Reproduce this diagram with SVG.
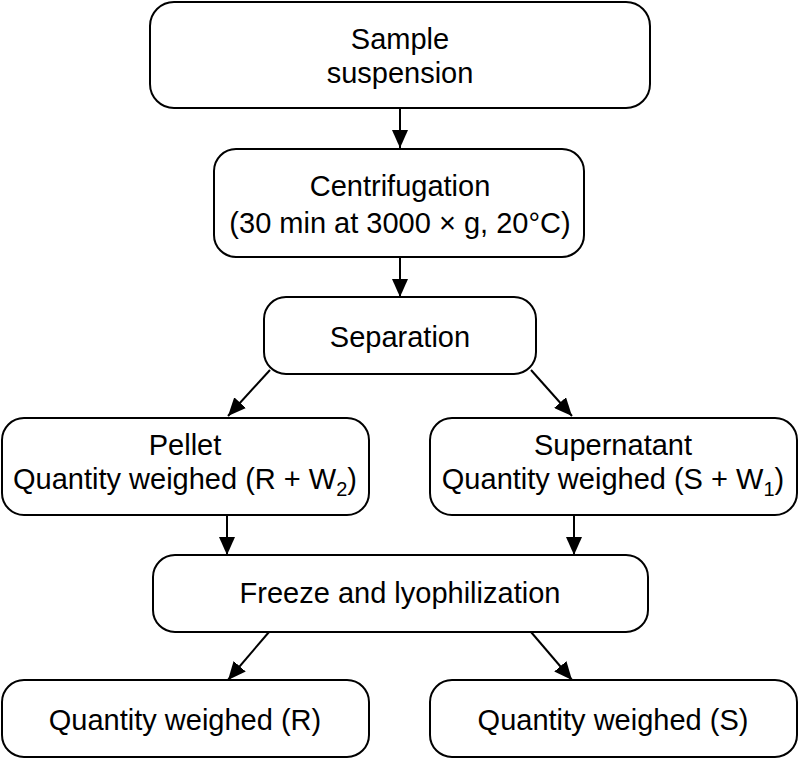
<svg xmlns="http://www.w3.org/2000/svg" width="800" height="759" viewBox="0 0 800 759">
<defs>
<style>
.box{fill:#fff;stroke:#000;stroke-width:2}
.t{font-family:"Liberation Sans",Arial,Helvetica,sans-serif;font-size:29px;fill:#000;text-anchor:middle}
.c{stroke:#000;stroke-width:2;fill:none;marker-end:url(#ah)}
</style>
<marker id="ah" viewBox="0 0 18 16" refX="18" refY="8" markerWidth="18" markerHeight="16" markerUnits="userSpaceOnUse" orient="auto">
<path d="M0,0 L18,8 L0,16 Z" fill="#000"/>
</marker>
</defs>
<rect width="800" height="759" fill="#fff"/>
<g id="connectors">
<line class="c" x1="400" y1="108" x2="400" y2="148"/>
<line class="c" x1="400" y1="257" x2="400" y2="297"/>
<line class="c" x1="270" y1="370" x2="228" y2="416"/>
<line class="c" x1="531" y1="370" x2="572" y2="416"/>
<line class="c" x1="227" y1="515" x2="227" y2="555"/>
<line class="c" x1="574" y1="515" x2="574" y2="555"/>
<line class="c" x1="269" y1="632" x2="228" y2="680"/>
<line class="c" x1="531" y1="632" x2="572" y2="680"/>
</g>
<g id="sample">
<rect class="box" x="150" y="2" width="500" height="106" rx="24"/>
<text class="t" x="400" y="49">Sample</text>
<text class="t" x="400" y="83">suspension</text>
</g>
<g id="centrifugation">
<rect class="box" x="214" y="149" width="370" height="108" rx="22"/>
<text class="t" x="400" y="196">Centrifugation</text>
<text class="t" x="400" y="233">(30 min at 3000 × g, 20°C)</text>
</g>
<g id="separation">
<rect class="box" x="264" y="297" width="272" height="77" rx="22"/>
<text class="t" x="400" y="347">Separation</text>
</g>
<g id="pellet">
<rect class="box" x="2" y="418" width="367" height="97" rx="22"/>
<text class="t" x="185" y="455">Pellet</text>
<text class="t" x="185" y="489">Quantity weighed (R + W<tspan font-size="20" dy="7">2</tspan><tspan dy="-7">)</tspan></text>
</g>
<g id="supernatant">
<rect class="box" x="430" y="418" width="367" height="97" rx="22"/>
<text class="t" x="613" y="455">Supernatant</text>
<text class="t" x="613" y="489">Quantity weighed (S + W<tspan font-size="20" dy="7">1</tspan><tspan dy="-7">)</tspan></text>
</g>
<g id="freeze">
<rect class="box" x="153" y="555" width="495" height="77" rx="22"/>
<text class="t" x="400" y="603">Freeze and lyophilization</text>
</g>
<g id="resultR">
<rect class="box" x="2" y="680" width="367" height="77" rx="22"/>
<text class="t" x="185" y="730">Quantity weighed (R)</text>
</g>
<g id="resultS">
<rect class="box" x="430" y="680" width="367" height="77" rx="22"/>
<text class="t" x="613" y="730">Quantity weighed (S)</text>
</g>
</svg>
